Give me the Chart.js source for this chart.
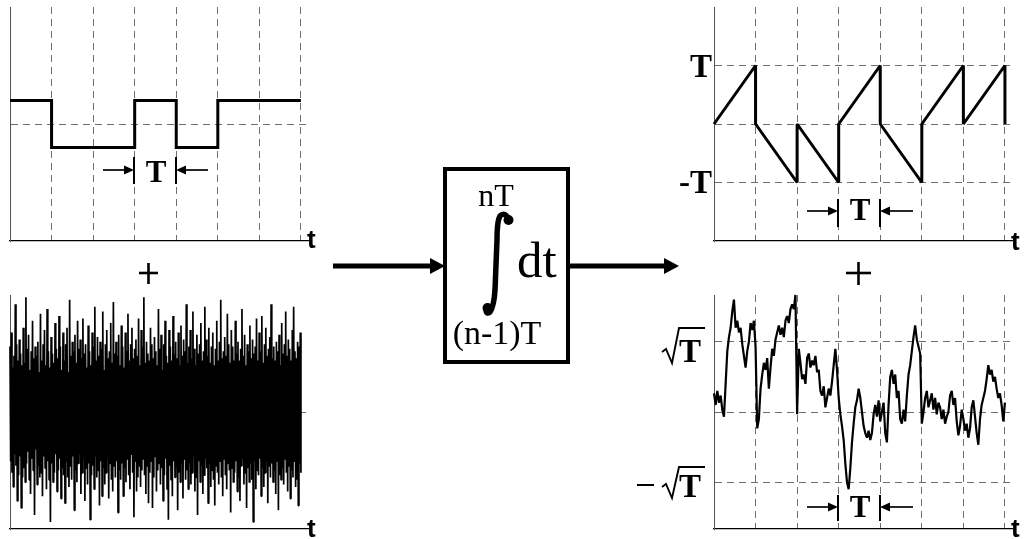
<!DOCTYPE html>
<html lang="en">
<head>
<meta charset="UTF-8" />
<title>Integrate and dump</title>
<script src="https://cdn.jsdelivr.net/npm/chart.js"></script>
<style>
  body { margin: 0; background: #fff; }
  #page { position: relative; width: 1024px; height: 539px; overflow: hidden; }
  canvas { position: absolute; }
  svg { position: absolute; left: 0; top: 0; }
  .serif { font-family: "Liberation Serif", "DejaVu Serif", serif; }
  .bold { font-weight: bold; }
  .axis-t { font-family: "Liberation Sans", Arial, sans-serif; font-weight: bold; font-size: 26px; }
</style>
</head>
<body>
<div id="page">
  <canvas id="chartSquare" width="310" height="246" style="left:4px;top:1px"></canvas>
  <canvas id="chartNoise" width="310" height="246" style="left:4px;top:289px"></canvas>
  <canvas id="chartSaw" width="310" height="246" style="left:708px;top:1px"></canvas>
  <canvas id="chartWalk" width="310" height="246" style="left:708px;top:289px"></canvas>

  <svg width="1024" height="539">
    <!-- axis names -->
    <text class="axis-t" x="307" y="248">t</text>
    <text class="axis-t" x="307" y="537">t</text>
    <text class="axis-t" x="1011" y="250">t</text>
    <text class="axis-t" x="1011" y="537">t</text>

    <!-- plus signs -->
    <g stroke="#000" stroke-width="2.6">
      <line x1="139" y1="273" x2="158" y2="273" />
      <line x1="148.5" y1="263" x2="148.5" y2="284" />
      <line x1="846" y1="273" x2="871" y2="273" />
      <line x1="858.5" y1="262" x2="858.5" y2="285" />
    </g>

    <!-- period markers -->
    <g stroke="#000" stroke-width="2">
      <line x1="134" y1="157" x2="134" y2="184" />
      <line x1="176" y1="157" x2="176" y2="184" />
      <line x1="838" y1="199" x2="838" y2="227" />
      <line x1="880" y1="199" x2="880" y2="227" />
      <line x1="838" y1="495" x2="838" y2="521" />
      <line x1="880" y1="495" x2="880" y2="521" />
    </g>
    <g stroke="#000" stroke-width="1.7">
      <line x1="103" y1="170" x2="127" y2="170" />
      <line x1="208" y1="170" x2="183" y2="170" />
      <line x1="807" y1="211" x2="831" y2="211" />
      <line x1="913" y1="211" x2="887" y2="211" />
      <line x1="807" y1="507" x2="831" y2="507" />
      <line x1="913" y1="507" x2="887" y2="507" />
    </g>
    <g fill="#000">
      <polygon points="124,165.5 134,170 124,174.5" />
      <polygon points="186,165.5 176,170 186,174.5" />
      <polygon points="828,206.5 838,211 828,215.5" />
      <polygon points="890,206.5 880,211 890,215.5" />
      <polygon points="828,502.5 838,507 828,511.5" />
      <polygon points="890,502.5 880,507 890,511.5" />
    </g>
    <g class="serif bold" font-size="31" text-anchor="middle">
      <text x="156" y="182">T</text>
      <text x="860" y="220">T</text>
      <text x="860" y="517">T</text>
    </g>

    <!-- level labels -->
    <g class="serif bold" font-size="33" text-anchor="end">
      <text x="712" y="77">T</text>
      <text x="712" y="193">-T</text>
    </g>
    <g class="serif bold" font-size="33">
      <text x="679" y="362">T</text>
      <text x="679" y="497">T</text>
    </g>
    <g stroke="#000" stroke-width="1.9" fill="none">
      <polyline points="662,352 666,349 672,363 679,328 705,328" />
      <polyline points="662,487 666,484 672,498 679,467 705,467" />
      <line x1="637" y1="485" x2="654" y2="485" stroke-width="2" />
    </g>

    <!-- integrator block -->
    <line x1="333" y1="266" x2="432" y2="266" stroke="#000" stroke-width="5" />
    <polygon points="430,258 445,266 430,274" fill="#000" />
    <rect x="445" y="169" width="123" height="193" fill="#fff" stroke="#000" stroke-width="4" />
    <line x1="570" y1="266" x2="666" y2="266" stroke="#000" stroke-width="5" />
    <polygon points="664,258 679,266 664,274" fill="#000" />
    <g class="serif" text-anchor="middle">
      <text x="496" y="206" font-size="32">nT</text>
      <text x="497" y="344" font-size="34">(n-1)T</text>
    </g>
    <text class="serif" x="517" y="277" font-size="51">dt</text>
    <path d="M 509,220 Q 505,211 500,216 Q 497,221 497,240 L 495,290 Q 494,306 490,312 Q 486,315 486,309"
          fill="none" stroke="#000" stroke-width="5.5" stroke-linecap="round" />
    <circle cx="508.5" cy="220" r="5" fill="#000" />
    <circle cx="487.5" cy="308" r="5" fill="#000" />
  </svg>
</div>

<script>
  // grid positions (in periods T)
  const xTicks = [1, 2, 3, 4, 5, 6, 7];
  const squareYTicks = [0];
  const noiseYTicks = [0];
  const sawYTicks = [-1, 0, 1];
  const walkYTicks = [-3, 0, 3];

  // input data bits: +1 / -1 per period
  const squareT = [0, 1, 1, 3, 3, 4, 4, 5, 5, 7];
  const squareV = [1, 1, -1, -1, 1, 1, -1, -1, 1, 1];

  // integrator output, reset every period
  const sawT = [0, 1, 1, 2, 2, 3, 3, 4, 4, 5, 5, 6, 6, 7, 7];
  const sawV = [0, 1, 0, -1, 0, -1, 0, 1, 0, -1, 0, 1, 0, 1, 0];

  // white noise samples
  const noiseV = [
    2.8,-2.1,3.4,-2.6,1.9,-3.2,2.4,-1.8,4.6,-2.3,2.9,-3.8,2.2,-2.7,3.1,-1.9,2.5,-4.1,2.0,-2.8,
    3.6,-2.4,2.1,-3.0,4.9,-2.2,2.7,-1.7,3.3,-2.9,1.8,-3.5,2.6,-2.0,3.9,-2.5,2.3,-4.4,2.8,-1.6,
    2.4,-3.1,3.0,-2.3,1.7,-2.8,4.2,-2.6,2.2,-3.6,2.9,-1.9,3.5,-2.4,2.0,-3.3,4.4,-2.1,2.6,-2.9,
    1.9,-4.7,3.2,-2.2,2.5,-3.0,2.1,-2.6,3.8,-1.8,2.7,-3.4,2.3,-2.5,4.1,-2.0,2.8,-3.7,1.8,-2.4,
    3.4,-2.7,2.2,-3.9,2.9,-2.1,3.6,-2.8,1.7,-3.2,4.8,-2.3,2.4,-2.9,3.0,-1.9,2.6,-4.2,3.3,-2.5,
    2.1,-3.0,3.9,-2.2,2.7,-1.8,3.1,-3.5,2.3,-2.6,4.0,-2.0,2.5,-3.8,2.9,-2.4,1.9,-3.1,3.7,-2.2,
    2.6,-4.6,2.0,-2.7,3.4,-2.3,2.8,-3.3,4.5,-1.9,2.2,-2.8,3.2,-2.5,2.4,-4.0,3.0,-2.1,2.7,-3.6,
    4.3,-2.4,1.8,-3.1,2.9,-2.6,3.5,-2.0,2.3,-3.7,2.6,-2.2,3.8,-2.9,2.1,-3.4,4.7,-2.3,2.5,-2.8,
    3.0,-2.1,2.4,-4.3,3.3,-2.5,2.0,-2.9,3.7,-2.2,2.8,-3.6,1.9,-2.4,3.4,-3.0,2.6,-2.0,4.2,-2.7,
    2.2,-3.3,2.9,-1.8,3.6,-2.6,2.3,-4.5,2.7,-2.1,3.1,-3.4,2.4,-2.8,4.0,-2.3,2.0,-3.2,3.5,-2.5,
    2.8,-2.0,4.9,-2.7,2.1,-3.5,3.0,-2.3,2.5,-3.9,2.2,-2.6,3.6,-2.1,2.9,-4.1,2.3,-2.8,3.2,-1.9,
    2.6,-3.4,2.0,-2.5,4.4,-2.2,2.7,-3.1,3.3,-2.4,1.8,-3.8,2.9,-2.7,3.9,-2.0,2.4,-3.3,2.1,-4.6,
    3.5,-2.3,2.8,-2.9,2.2,-3.6,4.1,-2.1,2.5,-2.8,3.0,-2.4,2.3,-4.2,3.4,-2.6,2.0,-3.0,3.7,-2.2,
    2.4,-3.7,3.1,-2.0,2.6,-2.9,4.6,-2.5,2.1,-3.3,2.8,-2.2,3.5,-3.1,2.3,-2.6,4.3,-1.9,2.7,-3.4,
    2.0,-2.8,3.3,-4.4,2.5,-2.1,2.9,-3.0,3.8,-2.3,2.2,-3.5,2.6,-2.7,4.5,-2.0,3.1,-2.4,2.4,-3.9,
    3.6,-2.2,2.1,-3.2,2.8,-2.5,3.4,-2.9,2.0,-4.0,2.7,-2.3,3.9,-2.6,2.2,-3.1,3.0,-2.1,4.8,-2.8,
    2.3,-3.6,2.6,-2.0,3.2,-2.7,2.4,-3.3,4.2,-2.2,2.9,-2.5,2.1,-4.3,3.5,-2.4,2.8,-3.0,2.2,-2.6,
    3.9,-2.1,2.5,-3.4,3.0,-2.8,2.2,-3.8,2.7,-2.3,4.4,-2.0,2.4,-3.1,3.3,-2.6,2.0,-4.1,2.9,-2.4,
    2.6,-3.0,3.7,-2.2,2.3,-2.9,3.1,-4.7,2.5,-2.1,2.8,-3.3,4.0,-2.5,2.2,-2.7,3.4,-2.0,2.6,-3.6,
    4.1,-2.4,2.1,-3.2,2.9,-2.6,3.6,-2.1,2.4,-3.9,2.7,-2.3,3.2,-2.8,4.6,-2.2,2.3,-3.0,2.8,-2.5,
    2.2,-3.5,3.0,-2.1,2.6,-4.2,3.3,-2.7,2.0,-2.9,3.8,-2.4,2.5,-3.1,2.9,-2.0,4.3,-2.6,2.4,-3.4,
    3.1,-2.3,2.7,-3.7,2.2,-2.5,3.5,-2.8,4.5,-2.1,2.6,-3.2,2.3,-2.9,3.0,-4.0,2.8,-2.2,3.4,-2.6
  ];

  // integrated noise (random walk), sampled every 0.04 T
  const walkV = [
    0.8,0.3,0.9,0.4,0.7,0.1,-0.2,1.2,2.6,3.2,3.6,4.3,4.8,3.6,3.9,3.4,3.6,2.9,2.4,1.9,
    2.6,3.0,3.8,3.5,3.9,2.8,-0.7,-0.3,1.0,1.6,2.1,1.8,2.3,1.0,1.9,2.7,2.4,3.1,3.4,3.7,
    3.3,3.6,3.2,3.9,4.1,3.8,4.4,4.6,4.4,5.0,-0.1,2.7,2.1,1.4,1.6,1.2,2.3,2.5,1.9,2.2,
    2.0,2.4,1.7,1.8,0.9,0.7,1.1,0.2,0.6,1.0,0.7,1.3,2.0,2.7,1.8,0.6,-0.1,-0.6,-1.2,-2.2,
    -3.0,-3.3,-2.4,-1.3,-0.5,0.2,0.5,1.0,0.6,0.0,-0.6,-0.9,-1.1,-0.8,-1.2,-0.9,-0.1,0.3,-0.2,0.5,
    -0.4,0.0,0.4,-0.9,-1.3,0.3,1.5,1.8,1.2,1.6,0.6,0.9,-0.3,-0.5,0.1,-0.4,0.7,1.6,2.0,2.6,
    3.2,3.7,3.1,2.8,2.5,-0.5,0.0,0.6,0.9,0.2,0.5,0.8,0.1,0.6,-0.1,0.4,0.2,-0.3,0.1,-0.5,
    -0.2,0.0,0.7,0.9,0.3,0.6,-0.4,-1.0,-0.6,0.1,-0.3,-0.8,-0.5,-1.1,-0.7,0.2,0.5,-0.2,-0.9,-1.4,
    -0.3,0.3,0.6,0.9,1.4,2.0,1.6,1.8,1.3,1.5,1.0,0.6,0.8,0.3,-0.4,0.4
  ];

  function toPoints(times, values) {
    return values.map((v, i) => ({ x: times[i], y: v }));
  }

  function evenPoints(values) {
    return values.map((v, i) => ({ x: (i * 7) / (values.length - 1), y: v }));
  }

  function makeChart(id, points, yMin, yMax, yTicks, showXGrid, lineWidth, join) {
    return new Chart(document.getElementById(id), {
      type: "line",
      data: {
        datasets: [
          {
            data: points,
            borderColor: "#000",
            borderWidth: lineWidth,
            borderJoinStyle: join,
            pointRadius: 0,
            fill: false,
            tension: 0,
            clip: 6,
          },
        ],
      },
      options: {
        responsive: false,
        animation: false,
        events: [],
        layout: { padding: 6 },
        plugins: { legend: { display: false }, tooltip: { enabled: false } },
        scales: {
          x: {
            type: "linear",
            min: 0,
            max: 7.17,
            afterBuildTicks: (scale) => {
              scale.ticks = xTicks.map((v) => ({ value: v }));
            },
            ticks: { display: false },
            grid: { display: showXGrid, color: "#6e6e6e", lineWidth: 1, drawTicks: false },
            border: { display: true, color: "#000", width: 1.3, dash: [7, 5] },
          },
          y: {
            type: "linear",
            min: yMin,
            max: yMax,
            afterBuildTicks: (scale) => {
              scale.ticks = yTicks.map((v) => ({ value: v }));
            },
            ticks: { display: false },
            grid: { color: "#6e6e6e", lineWidth: 1, drawTicks: false },
            border: { display: true, color: "#555", width: 1, dash: [7, 5] },
          },
        },
      },
    });
  }

  makeChart("chartSquare", toPoints(squareT, squareV), -5, 5, squareYTicks, true, 3, "miter");
  makeChart("chartNoise", evenPoints(noiseV), -5, 5, noiseYTicks, false, 1.7, "bevel");
  makeChart("chartSaw", toPoints(sawT, sawV), -2, 2, sawYTicks, true, 3, "bevel");
  makeChart("chartWalk", evenPoints(walkV), -5, 5, walkYTicks, true, 2.2, "bevel");
</script>
</body>
</html>
